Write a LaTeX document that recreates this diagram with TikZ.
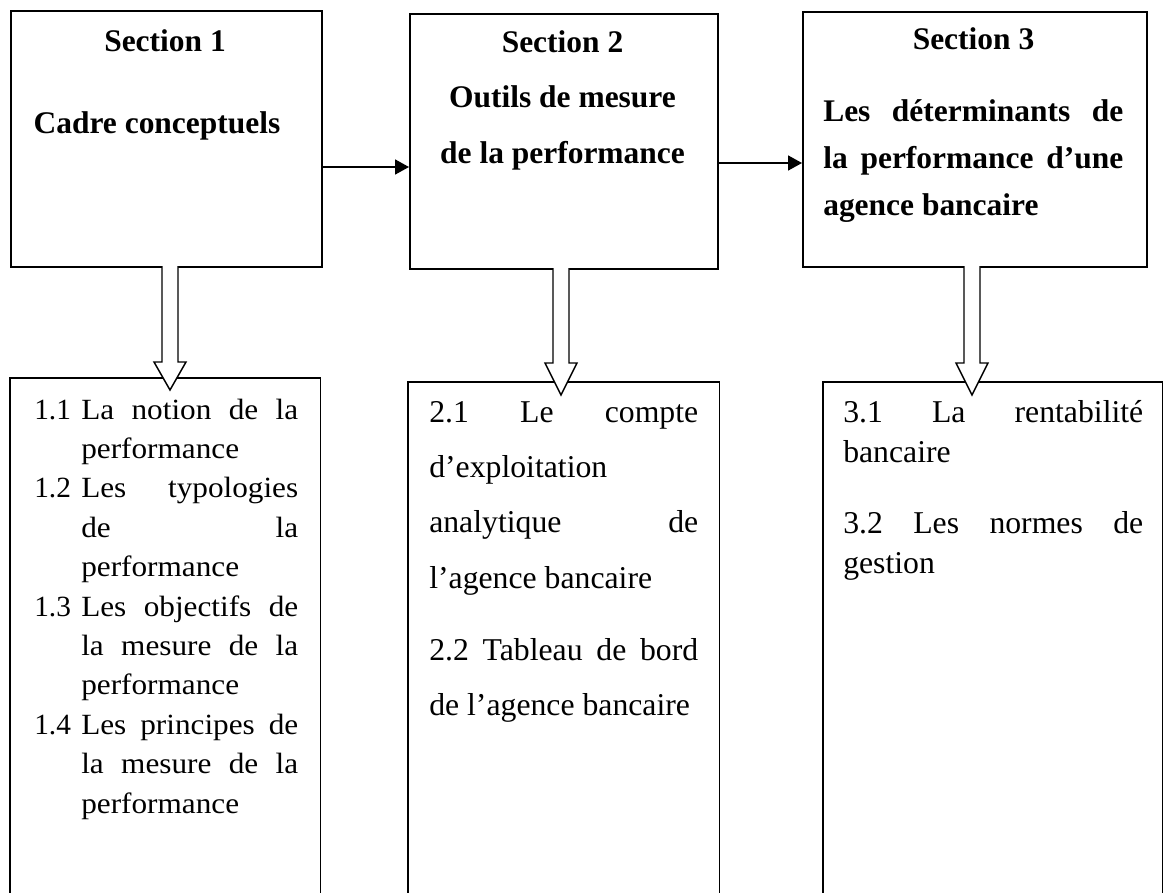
\documentclass[tikz,border=0pt]{standalone}
\usepackage{fontspec}
\setmainfont{Liberation Serif}
\newfontfamily\bodyfontA[FakeStretch=1.065]{Liberation Serif}
\usetikzlibrary{arrows.meta}
\newcommand{\harrow}[4]{\draw[hollowarrow] (#1-8,#2) -- (#1-8,#3) -- (#1-16,#3) -- (#1,#4) -- (#1+16,#3) -- (#1+8,#3) -- (#1+8,#2);}
\begin{document}
\begin{tikzpicture}[x=0.75pt,y=-0.75pt,
  secbox/.style={draw, line width=1.3pt, inner sep=0pt, anchor=north west},
  areabox/.style={inner sep=0pt, anchor=north west},
  boxline/.style={line width=1.3pt},
  linkarrow/.style={line width=1.3pt, -{Triangle[length=10.5pt,width=11.25pt]}},
  hollowarrow/.style={draw, line width=1.1pt, fill=white, line join=miter},
  ttltext/.style={inner sep=0pt, anchor=base, font=\rmfamily\bfseries\fontsize{23.6pt}{28pt}\selectfont},
  ttlblock/.style={inner sep=0pt, anchor=base west, font=\rmfamily\bfseries\fontsize{23.6pt}{28pt}\selectfont},
  bodyblock/.style={inner sep=0pt, anchor=base west, align=left, font=\rmfamily\fontsize{23.8pt}{28pt}\selectfont},
]
\useasboundingbox (0,0) rectangle (1163,892);
\fill[white] (0,0) rectangle (1163,892);

% top section boxes
\node[secbox, minimum width=233.25pt, minimum height=192pt] (s1) at (10,10) {};
\node[secbox, minimum width=231pt, minimum height=191.25pt] (s2) at (409,13) {};
\node[secbox, minimum width=258pt, minimum height=191.25pt] (s3) at (802,11) {};

% titles
\node[ttltext] (h1) at (165,52) {Section 1};
\node[ttltext] (c1) at (157,133) {Cadre conceptuels};
\node[ttltext] (h2) at (562.5,53) {Section 2};
\node[ttltext] (c2a) at (562.5,108) {Outils de mesure};
\node[ttltext] (c2b) at (562.5,163) {de la performance};
\node[ttltext] (h3) at (973.5,50) {Section 3};
\node[ttlblock] (c3) at (823,122) {\vtop{\hsize=225pt\parindent=0pt\parskip=0pt\baselineskip=34.9pt
\makebox[\hsize][s]{Les déterminants de}\par
\makebox[\hsize][s]{la performance d’une}\par
agence bancaire\par}};

% horizontal connectors
\coordinate (y1) at (0,167);
\coordinate (y2) at (0,163);
\draw[linkarrow] (s1.east |- y1) -- (s2.west |- y1);
\draw[linkarrow] (s2.east |- y2) -- (s3.west |- y2);

% lower boxes (open at the bottom)
\node[areabox, minimum width=232.5pt, minimum height=390pt] (b1) at (10,378) {};
\node[areabox, minimum width=233.25pt, minimum height=386.25pt] (b2) at (408,382) {};
\node[areabox, minimum width=254.25pt, minimum height=386.25pt] (b3) at (823,382) {};
\draw[boxline] (b1.south west) -- (b1.north west) -- (b1.north east) -- (b1.south east);
\draw[boxline] (b2.south west) -- (b2.north west) -- (b2.north east) -- (b2.south east);
\draw[boxline] (b3.south west) -- (b3.north west) -- (b3.north east) -- (b3.south east);

% hollow arrows
\harrow{170}{266}{362}{390}
\harrow{561}{268}{363}{395}
\harrow{972}{266}{363}{395}

% lower texts
\node[bodyblock] (t1) at (34,419) {\bodyfontA\fontsize{22pt}{26pt}\selectfont
\vtop{\hsize=198pt\parindent=0pt\parskip=0pt\baselineskip=29.55pt
\makebox[35.25pt][l]{\rmfamily 1.1}\makebox[162.75pt][s]{La notion de la}\par
\makebox[35.25pt]{}performance\par
\makebox[35.25pt][l]{\rmfamily 1.2}\makebox[162.75pt][s]{Les typologies}\par
\makebox[35.25pt]{}\makebox[162.75pt][s]{de la}\par
\makebox[35.25pt]{}performance\par
\makebox[35.25pt][l]{\rmfamily 1.3}\makebox[162.75pt][s]{Les objectifs de}\par
\makebox[35.25pt]{}\makebox[162.75pt][s]{la mesure de la}\par
\makebox[35.25pt]{}performance\par
\makebox[35.25pt][l]{\rmfamily 1.4}\makebox[162.75pt][s]{Les principes de}\par
\makebox[35.25pt]{}\makebox[162.75pt][s]{la mesure de la}\par
\makebox[35.25pt]{}performance\par}};

\node[bodyblock] (t2) at (429,422) {\vtop{\hsize=201.75pt\parindent=0pt\parskip=0pt\baselineskip=41.5pt
\makebox[\hsize][s]{2.1 Le compte}\par
d’exploitation\par
\makebox[\hsize][s]{analytique de}\par
l’agence bancaire\par
\vskip12.5pt
\makebox[\hsize][s]{2.2 Tableau de bord}\par
de l’agence bancaire\par}};

\node[bodyblock] (t3) at (843,422) {\vtop{\hsize=225pt\parindent=0pt\parskip=0pt\baselineskip=30pt
\makebox[\hsize][s]{3.1 La rentabilité}\par
bancaire\par
\vskip23.25pt
\makebox[\hsize][s]{3.2 Les normes de}\par
gestion\par}};
\end{tikzpicture}
\end{document}
